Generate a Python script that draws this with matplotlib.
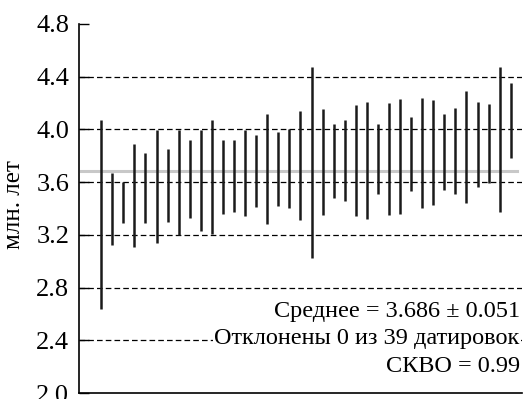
import matplotlib.pyplot as plt
import numpy as np

# age intervals (млн. лет)
upper = [4.068, 3.672, 3.602, 3.886, 3.818, 3.997, 3.853, 3.997, 3.916, 3.997,
         4.068, 3.916, 3.921, 3.997, 3.957, 4.113, 3.979, 4.005, 4.143, 4.473,
         4.151, 4.040, 4.068, 4.183, 4.209, 4.040, 4.201, 4.231, 4.095, 4.239,
         4.226, 4.113, 4.163, 4.292, 4.209, 4.193, 4.470, 4.352]
lower = [2.639, 3.125, 3.289, 3.105, 3.289, 3.136, 3.299, 3.201, 3.324, 3.231,
         3.206, 3.357, 3.377, 3.345, 3.408, 3.282, 3.420, 3.400, 3.312, 3.025,
         3.350, 3.483, 3.455, 3.345, 3.319, 3.508, 3.352, 3.357, 3.531, 3.400,
         3.425, 3.539, 3.511, 3.445, 3.566, 3.596, 3.370, 3.780]
mean_age = 3.686
grid_levels = [2.4, 2.8, 3.2, 3.6, 4.0, 4.4]
y_ticks = [2.0, 2.4, 2.8, 3.2, 3.6, 4.0, 4.4, 4.8]

plt.rcParams['font.family'] = ['Liberation Serif', 'DejaVu Serif']

fig = plt.figure(figsize=(5.25, 3.99), dpi=100)
ax = fig.add_axes([0.1505, 0.015, 0.8435, 0.925])

x = np.arange(2, 2 + len(upper))
for lev in grid_levels:
    ax.axhline(lev, color='black', lw=0.9, ls=(0, (4.5, 2.5)), zorder=1)
ax.axhline(mean_age, xmin=0.005, xmax=0.99, color='#c8c8c8', lw=2.2, zorder=2)
ax.vlines(x, lower, upper, color='#1a1a1a', lw=1.8, zorder=3)

ax.set_xlim(0, 40)
ax.set_ylim(2.0, 4.8)
ax.set_yticks(y_ticks)
ax.set_yticklabels([f'{t:.1f}' for t in y_ticks])
ax.set_xticks([])
ax.tick_params(axis='y', direction='in', length=7, width=1, labelsize=19, pad=7)
for lab in ax.get_yticklabels():
    lab.set_fontfamily('Liberation Serif')
for s in ['top', 'right']:
    ax.spines[s].set_visible(False)
ax.spines['left'].set_linewidth(1.2)
ax.spines['bottom'].set_linewidth(1.2)
ax.set_ylabel('млн. лет', fontsize=18)
ax.yaxis.set_label_coords(-0.122, 0.51)

box = dict(facecolor='white', edgecolor='none', pad=1)
ax.text(0.995, 0.22, 'Среднее = 3.686 ± 0.051', transform=ax.transAxes,
        ha='right', va='center', fontsize=17.5, bbox=box, zorder=5)
ax.text(0.995, 0.149, 'Отклонены 0 из 39 датировок', transform=ax.transAxes,
        ha='right', va='center', fontsize=17.5, bbox=box, zorder=5)
ax.text(0.995, 0.073, 'СКВО = 0.99', transform=ax.transAxes,
        ha='right', va='center', fontsize=17.5, bbox=box, zorder=5)

plt.savefig('out.png', dpi=100)
